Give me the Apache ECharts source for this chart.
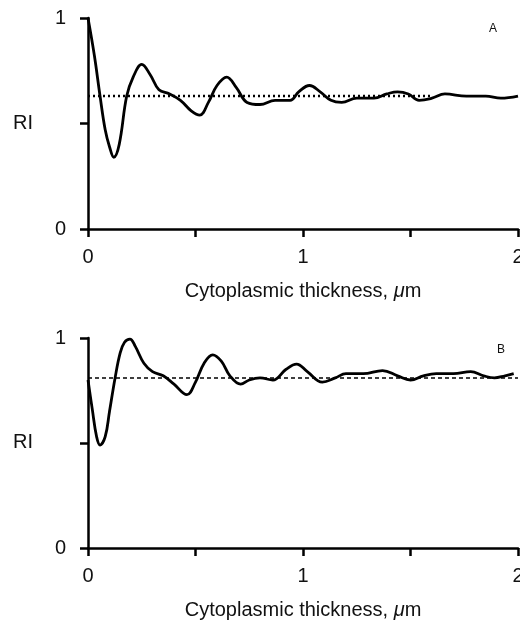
<!DOCTYPE html>
<html>
<head>
<meta charset="utf-8">
<script src="https://cdn.jsdelivr.net/npm/echarts@6/dist/echarts.min.js"></script>
<style>
  html, body { margin: 0; padding: 0; background: #fff; }
  #chart { width: 520px; height: 623px; }
</style>
</head>
<body>
<div id="chart"></div>
<script>
// panel A: [thickness um, RI]
const curveA = [
  [0, 1.0], [0.03, 0.82], [0.056, 0.63], [0.08, 0.47], [0.1, 0.39], [0.12, 0.34],
  [0.145, 0.4], [0.18, 0.63], [0.21, 0.72], [0.25, 0.78], [0.29, 0.73], [0.33, 0.66],
  [0.38, 0.64], [0.43, 0.61], [0.48, 0.56], [0.52, 0.54], [0.56, 0.6], [0.6, 0.68],
  [0.645, 0.72], [0.69, 0.67], [0.74, 0.6], [0.8, 0.59], [0.87, 0.61], [0.94, 0.61],
  [0.98, 0.65], [1.03, 0.68], [1.08, 0.65], [1.13, 0.61], [1.18, 0.6], [1.25, 0.62],
  [1.33, 0.62], [1.39, 0.64], [1.44, 0.65], [1.49, 0.64], [1.54, 0.61], [1.6, 0.62],
  [1.66, 0.64], [1.76, 0.63], [1.85, 0.63], [1.92, 0.62], [2.0, 0.63]
]
const asymA = [[0, 0.63], [1.6, 0.63]]

// panel B
const curveB = [
  [0, 0.8], [0.02, 0.66], [0.04, 0.53], [0.056, 0.49], [0.08, 0.53], [0.1, 0.65],
  [0.126, 0.81], [0.15, 0.93], [0.17, 0.98], [0.195, 0.995], [0.22, 0.96], [0.26, 0.88],
  [0.3, 0.84], [0.35, 0.82], [0.4, 0.78], [0.46, 0.73], [0.5, 0.79], [0.54, 0.88],
  [0.58, 0.92], [0.62, 0.89], [0.66, 0.82], [0.71, 0.78], [0.75, 0.8], [0.8, 0.81],
  [0.86, 0.8], [0.92, 0.85], [0.97, 0.876], [1.02, 0.84], [1.09, 0.79], [1.15, 0.81],
  [1.2, 0.83], [1.28, 0.83], [1.37, 0.845], [1.44, 0.82], [1.5, 0.8], [1.56, 0.82],
  [1.62, 0.83], [1.7, 0.83], [1.78, 0.84], [1.84, 0.82], [1.89, 0.81], [1.94, 0.82],
  [1.98, 0.83]
]
const asymB = [[0, 0.81], [2.0, 0.81]]

const xTickLabels = ['0', '1', '2']
const yTickLabels = ['0', '1']
const xTitle = 'Cytoplasmic thickness, {i|μ}m'
const yTitle = 'RI'
const panelNames = ['A', 'B']

const font = 'Liberation Sans, Arial, sans-serif'

function xAxisFor(idx) {
  return {
    gridIndex: idx,
    type: 'value',
    min: 0,
    max: 2,
    interval: 0.5,
    name: xTitle,
    nameLocation: 'middle',
    nameGap: 52,
    nameTextStyle: {
      color: '#111',
      fontSize: 20,
      fontFamily: font,
      rich: { i: { fontStyle: 'italic', fontSize: 20, fontFamily: font, color: '#111' } }
    },
    axisLine: { onZero: false, lineStyle: { color: '#000', width: 2.5 } },
    axisTick: { length: 8, lineStyle: { color: '#000', width: 2.5 } },
    axisLabel: {
      margin: 18,
      color: '#111',
      fontSize: 20,
      fontFamily: font,
      formatter: v => xTickLabels.indexOf(String(v)) >= 0 ? String(v) : ''
    },
    splitLine: { show: false }
  }
}

function yAxisFor(idx) {
  return {
    gridIndex: idx,
    type: 'value',
    min: 0,
    max: 1,
    interval: 0.5,
    axisLine: { lineStyle: { color: '#000', width: 2.5 } },
    axisTick: { length: 8, lineStyle: { color: '#000', width: 2.5 } },
    axisLabel: {
      margin: 22,
      color: '#111',
      fontSize: 20,
      fontFamily: font,
      formatter: v => yTickLabels.indexOf(String(v)) >= 0 ? String(v) : ''
    },
    splitLine: { show: false }
  }
}

const chart = echarts.init(document.getElementById('chart'))
chart.setOption({
  animation: false,
  backgroundColor: '#fff',
  grid: [
    { left: 88, top: 18, width: 430, height: 211, outerBoundsMode: 'none', containLabel: false },
    { left: 88, top: 338, width: 430, height: 210, outerBoundsMode: 'none', containLabel: false }
  ],
  xAxis: [xAxisFor(0), xAxisFor(1)],
  yAxis: [yAxisFor(0), yAxisFor(1)],
  graphic: [
    { type: 'text', left: 13, top: 113, style: { text: yTitle, fontSize: 20, fontFamily: font, fill: '#111' } },
    { type: 'text', left: 13, top: 432, style: { text: yTitle, fontSize: 20, fontFamily: font, fill: '#111' } },
    { type: 'text', left: 489, top: 23, style: { text: panelNames[0], fontSize: 12, fontFamily: font, fill: '#111' } },
    { type: 'text', left: 497, top: 344, style: { text: panelNames[1], fontSize: 12, fontFamily: font, fill: '#111' } }
  ],
  series: [
    {
      type: 'line', xAxisIndex: 0, yAxisIndex: 0, data: asymA, showSymbol: false,
      lineStyle: { color: '#000', width: 2.5, type: [2, 3] }
    },
    {
      type: 'line', xAxisIndex: 0, yAxisIndex: 0, data: curveA, smooth: 0.4, showSymbol: false,
      lineStyle: { color: '#000', width: 2.8 }
    },
    {
      type: 'line', xAxisIndex: 1, yAxisIndex: 1, data: asymB, showSymbol: false,
      lineStyle: { color: '#000', width: 1.5, type: [4, 3] }
    },
    {
      type: 'line', xAxisIndex: 1, yAxisIndex: 1, data: curveB, smooth: 0.4, showSymbol: false,
      lineStyle: { color: '#000', width: 2.8 }
    }
  ]
})
</script>
</body>
</html>
